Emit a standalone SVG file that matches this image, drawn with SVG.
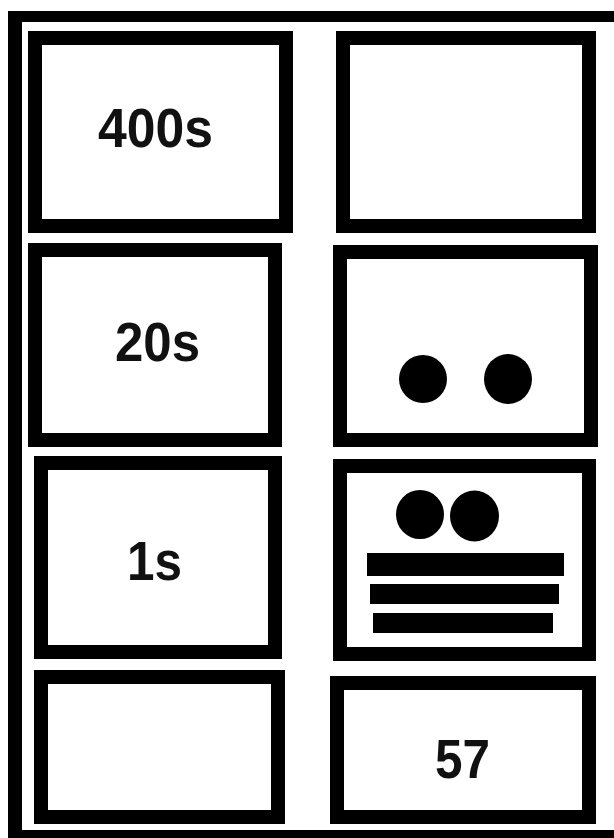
<svg xmlns="http://www.w3.org/2000/svg" width="614" height="838" viewBox="0 0 614 838">
<style>
.box{fill:#fff;stroke:#000;stroke-width:14}
.lbl{font-family:"Liberation Sans",Arial,sans-serif;font-weight:bold;font-size:55px;fill:#111;text-anchor:middle}
.blk{fill:#000}
</style>
<rect width="614" height="838" fill="#fff"/>
<g id="frame" class="blk">
<rect x="8" y="11" width="606" height="11"/>
<rect x="8" y="11" width="14" height="827"/>
<rect x="8" y="830" width="606" height="8"/>
</g>
<g id="box-400s">
<rect class="box" x="35" y="38" width="251" height="188"/>
<text class="lbl" x="155.5" y="147" textLength="115" lengthAdjust="spacingAndGlyphs">400s</text>
</g>
<g id="box-top-right">
<rect class="box" x="343" y="38" width="246" height="188"/>
</g>
<g id="box-20s">
<rect class="box" x="35" y="250" width="240" height="190"/>
<text class="lbl" x="157.5" y="361" textLength="85" lengthAdjust="spacingAndGlyphs">20s</text>
</g>
<g id="box-dots">
<rect class="box" x="340" y="252" width="251" height="188"/>
<ellipse class="blk" cx="423" cy="379" rx="24" ry="24"/>
<ellipse class="blk" cx="508" cy="379" rx="24" ry="25"/>
</g>
<g id="box-1s">
<rect class="box" x="41" y="463" width="234" height="189"/>
<text class="lbl" x="154.5" y="580" textLength="55" lengthAdjust="spacingAndGlyphs">1s</text>
</g>
<g id="box-dots-bars">
<rect class="box" x="340" y="466" width="249" height="188"/>
<ellipse class="blk" cx="420" cy="514.5" rx="24" ry="24.5"/>
<ellipse class="blk" cx="474.5" cy="516" rx="24.5" ry="25.5"/>
<rect class="blk" x="367" y="553" width="197" height="23"/>
<rect class="blk" x="370" y="584" width="189" height="20"/>
<rect class="blk" x="373" y="613" width="180" height="20"/>
</g>
<g id="box-bottom-left">
<rect class="box" x="41" y="677" width="237" height="140"/>
</g>
<g id="box-57">
<rect class="box" x="337" y="683" width="252" height="134"/>
<text class="lbl" x="462.5" y="778" textLength="55" lengthAdjust="spacingAndGlyphs">57</text>
</g>
<g id="connectors"/>
</svg>
